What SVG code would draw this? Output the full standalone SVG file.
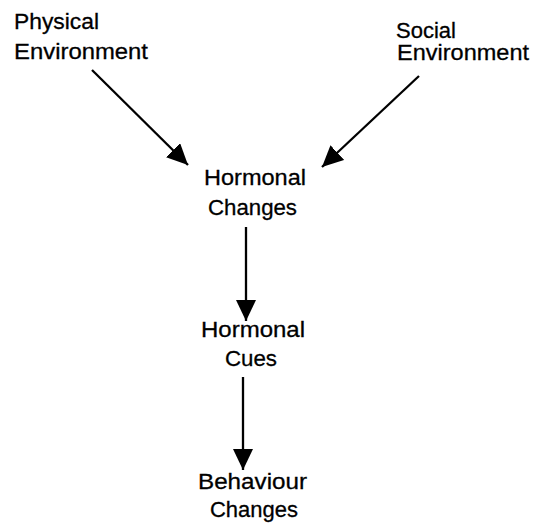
<svg xmlns="http://www.w3.org/2000/svg" width="551" height="525" viewBox="0 0 551 525">
  <style>
    .lbl { font-family: "Liberation Sans", Arial, sans-serif; font-size: 22.5px; fill: #000; stroke: #000; stroke-width: 0.3; }
    .edge { stroke: #000; stroke-width: 2.3; fill: none; marker-end: url(#head); }
  </style>
  <defs>
    <marker id="head" markerUnits="userSpaceOnUse" markerWidth="22" markerHeight="20" viewBox="0 0 22 20" refX="21" refY="10" orient="auto">
      <path d="M0,0 L21,10 L0,20 Z" fill="#000"/>
    </marker>
  </defs>
  <rect width="551" height="525" fill="#fff"/>

  <g id="edges">
    <line class="edge" x1="92" y1="70" x2="188" y2="165"/>
    <line class="edge" x1="419" y1="76" x2="322" y2="167"/>
    <line class="edge" x1="246" y1="227" x2="246" y2="321"/>
    <line class="edge" x1="243" y1="377" x2="243" y2="470"/>
  </g>

  <g id="physical-environment">
    <text class="lbl" x="14" y="29" textLength="85" lengthAdjust="spacingAndGlyphs">Physical</text>
    <text class="lbl" x="14" y="58.5" textLength="134" lengthAdjust="spacingAndGlyphs">Environment</text>
  </g>
  <g id="social-environment">
    <text class="lbl" x="396" y="37.5" textLength="60" lengthAdjust="spacingAndGlyphs">Social</text>
    <text class="lbl" x="397" y="60" textLength="132" lengthAdjust="spacingAndGlyphs">Environment</text>
  </g>
  <g id="hormonal-changes">
    <text class="lbl" x="204" y="185" textLength="102" lengthAdjust="spacingAndGlyphs">Hormonal</text>
    <text class="lbl" x="208" y="215" textLength="89" lengthAdjust="spacingAndGlyphs">Changes</text>
  </g>
  <g id="hormonal-cues">
    <text class="lbl" x="201" y="337" textLength="104" lengthAdjust="spacingAndGlyphs">Hormonal</text>
    <text class="lbl" x="225" y="366" textLength="52" lengthAdjust="spacingAndGlyphs">Cues</text>
  </g>
  <g id="behaviour-changes">
    <text class="lbl" x="198" y="488.5" textLength="109" lengthAdjust="spacingAndGlyphs">Behaviour</text>
    <text class="lbl" x="210" y="517" textLength="88" lengthAdjust="spacingAndGlyphs">Changes</text>
  </g>
</svg>
